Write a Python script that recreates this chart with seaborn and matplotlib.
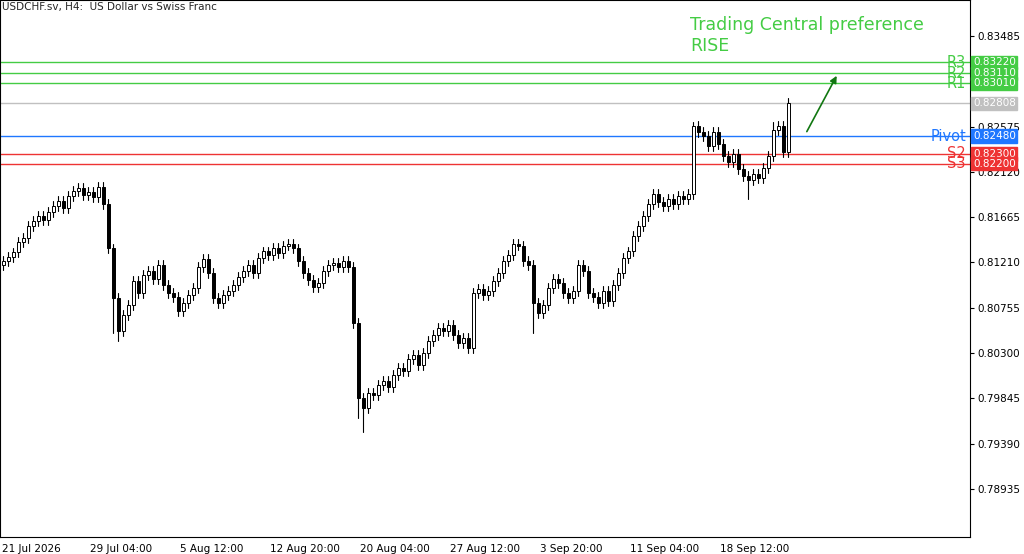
import numpy as np
import matplotlib.pyplot as plt
import seaborn as sns
from matplotlib.patches import Rectangle

sns.set_style('white')
plt.rcParams['font.family'] = ['DejaVu Sans']

# ==============================================
# data (H4 candles)
closes = [0.8122, 0.8126, 0.8131, 0.8142, 0.8146, 0.8158, 0.8163, 0.8168, 0.8164, 0.8172,
          0.8178, 0.8183, 0.8176, 0.8188, 0.8193, 0.8196, 0.8189, 0.8192, 0.8187, 0.8197,
          0.8180, 0.8135, 0.8085, 0.8052, 0.8068, 0.8078, 0.8102, 0.8090, 0.8108, 0.8112,
          0.8104, 0.8118, 0.8098, 0.8090, 0.8086, 0.8072, 0.8080, 0.8088, 0.8095, 0.8116,
          0.8124, 0.8110, 0.8085, 0.8080, 0.8088, 0.8092, 0.8098, 0.8106, 0.8112, 0.8118,
          0.8110, 0.8125, 0.8132, 0.8128, 0.8136, 0.8130, 0.8138, 0.8140, 0.8135, 0.8122,
          0.8110, 0.8103, 0.8096, 0.8100, 0.8112, 0.8118, 0.8120, 0.8116, 0.8122, 0.8116,
          0.8060, 0.7985, 0.7975, 0.7990, 0.7988, 0.7998, 0.8002, 0.7996, 0.8008, 0.8015,
          0.8012, 0.8024, 0.8028, 0.8018, 0.8030, 0.8042, 0.8048, 0.8055, 0.8052, 0.8058,
          0.8048, 0.8040, 0.8045, 0.8035, 0.8090, 0.8094, 0.8088, 0.8092, 0.8102, 0.8110,
          0.8122, 0.8128, 0.8140, 0.8138, 0.8122, 0.8118, 0.8080, 0.8070, 0.8078, 0.8095,
          0.8104, 0.8100, 0.8090, 0.8085, 0.8092, 0.8118, 0.8112, 0.8090, 0.8086, 0.8080,
          0.8092, 0.8082, 0.8098, 0.8110, 0.8125, 0.8132, 0.8148, 0.8158, 0.8168, 0.8180,
          0.8190, 0.8182, 0.8178, 0.8185, 0.8180, 0.8188, 0.8185, 0.8190, 0.8258, 0.8252,
          0.8248, 0.8238, 0.8252, 0.8240, 0.8228, 0.8222, 0.8230, 0.8215, 0.8208, 0.8204,
          0.8210, 0.8206, 0.8216, 0.8228, 0.8254, 0.8258, 0.8232, 0.8281]
first_open = 0.8118
low_spikes = {22: 0.8050, 23: 0.8042, 72: 0.7951, 71: 0.7965, 106: 0.8050, 149: 0.8185}
high_spikes = {138: 0.8262, 154: 0.8262, 20: 0.8202}

levels = {'R3': 0.83220, 'R2': 0.83110, 'R1': 0.83010, 'Pivot': 0.82480, 'S2': 0.82300, 'S3': 0.82200}
level_colors = {'R3': '#44cc44', 'R2': '#44cc44', 'R1': '#44cc44', 'Pivot': '#1f77ff',
                'S2': '#ee3333', 'S3': '#ee3333'}
last_price = 0.82808

yticks = [0.83485, 0.83030, 0.82575, 0.82120, 0.81665, 0.81210, 0.80755, 0.80300,
          0.79845, 0.79390, 0.78935]
xtick_labels = ['21 Jul 2026', '29 Jul 04:00', '5 Aug 12:00', '12 Aug 20:00', '20 Aug 04:00',
                '27 Aug 12:00', '3 Sep 20:00', '11 Sep 04:00', '18 Sep 12:00']
xtick_bars = [-0.2, 17.4, 35.4, 53.4, 71.4, 89.4, 107.4, 125.4, 143.4]

# ==============================================
opens = [first_open] + closes[:-1]
fig = plt.figure(figsize=(10.24, 5.54), dpi=100)
ax = fig.add_axes([0, 17 / 554, 970 / 1024, 537 / 554])

for i, (o, c) in enumerate(zip(opens, closes)):
    hi = high_spikes.get(i, max(o, c) + 0.0005)
    lo = low_spikes.get(i, min(o, c) - 0.0005)
    ax.plot([i, i], [lo, hi], color='black', lw=0.8, zorder=2)
    fill = 'white' if c >= o else 'black'
    ax.add_patch(Rectangle((i - 0.3, min(o, c)), 0.6, max(abs(c - o), 0.00003),
                           facecolor=fill, edgecolor='black', lw=0.7, zorder=3))

ax.set_xlim(-0.6, 193.4)
ax.set_ylim(0.78451, 0.83847)

for name, val in levels.items():
    col = level_colors[name]
    ax.axhline(val, color=col, lw=1, zorder=1)
    ax.text(192.6, val, name, color=col, ha='right', va='center', fontsize=10.5)
    ax.text(1.003, val, '%.5f' % val, transform=ax.get_yaxis_transform(), color='white',
            fontsize=7.5, va='center', ha='left', zorder=5,
            bbox=dict(boxstyle='square,pad=0.15', fc=col, ec=col), clip_on=False)
ax.axhline(last_price, color='#c0c0c0', lw=1, zorder=1)
ax.text(1.003, last_price, '%.5f' % last_price, transform=ax.get_yaxis_transform(),
        color='white', fontsize=7.5, va='center', ha='left',
        bbox=dict(boxstyle='square,pad=0.15', fc='#c0c0c0', ec='#c0c0c0'), clip_on=False)

ax.annotate('', xy=(167, 0.8311), xytext=(160.5, 0.8250),
            arrowprops=dict(arrowstyle='-|>', color='#117711', lw=1.2))
ax.text(137.5, 0.8355, 'Trading Central preference', color='#44cc44', fontsize=12.5)
ax.text(137.5, 0.8333, 'RISE', color='#44cc44', fontsize=12.5)
ax.text(0.002, 0.997, 'USDCHF.sv, H4:  US Dollar vs Swiss Franc', transform=ax.transAxes,
        fontsize=7.5, va='top')

ax.yaxis.tick_right()
ax.set_yticks(yticks)
# the 0.83030 label sits under the level boxes in the reference
ax.set_yticklabels(['' if v == 0.83030 else '%.5f' % v for v in yticks], fontsize=7.5)
ax.set_xticks(xtick_bars)
ax.set_xticklabels(xtick_labels, fontsize=7.5, ha='left')
ax.tick_params(length=3, direction='out', colors='black', pad=2)
for s in ax.spines.values():
    s.set_color('black')
    s.set_linewidth(0.8)

fig.savefig('out.png', dpi=100)
